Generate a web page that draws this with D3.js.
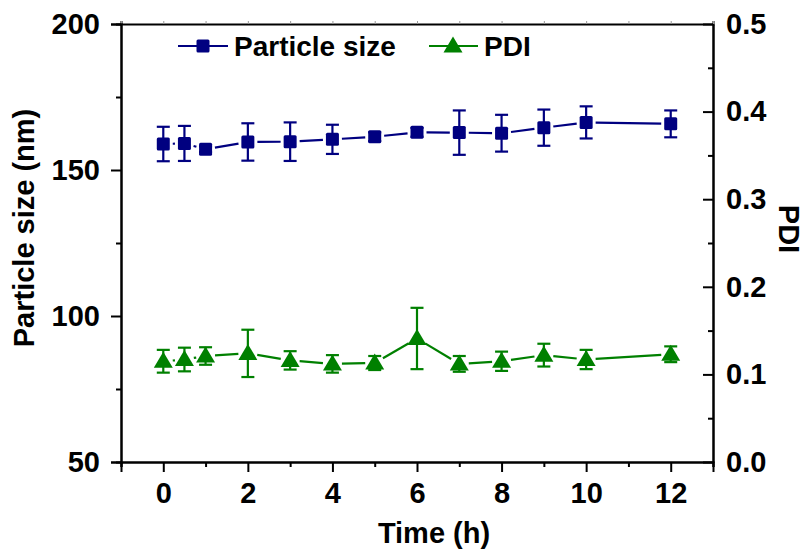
<!DOCTYPE html>
<html>
<head>
<meta charset="utf-8">
<script src="https://cdn.jsdelivr.net/npm/d3@7"></script>
<style>
  body { margin: 0; background: #fff; }
  text { font-family: "Liberation Sans", Arial, sans-serif; font-weight: bold; }
</style>
</head>
<body>
<div id="chart"></div>
<script>
// Sampling times (h)
const times = [0, 0.5, 1, 2, 3, 4, 5, 6, 7, 8, 9, 10, 12];
// Particle size (nm), mean and SD
const sizeMean = [158.9, 159.1, 157.1, 159.6, 159.7, 160.5, 161.4, 162.9, 162.8, 162.6, 164.5, 166.3, 165.8];
const sizeErr = [5.9, 6.0, 1.0, 6.4, 6.6, 5.0, 1.5, 1.5, 7.6, 6.3, 6.2, 5.5, 4.6];
// PDI, mean and SD
const pdiMean = [0.115, 0.117, 0.121, 0.124, 0.116, 0.112, 0.113, 0.141, 0.112, 0.115, 0.122, 0.117, 0.123];
const pdiErr = [0.013, 0.0135, 0.010, 0.027, 0.0105, 0.010, 0.008, 0.035, 0.009, 0.011, 0.013, 0.011, 0.009];

const xMajor = [0, 2, 4, 6, 8, 10, 12];
const xMinor = [-1, 1, 3, 5, 7, 9, 11, 13];
const leftMajor = [50, 100, 150, 200];
const leftMinor = [75, 125, 175];
const rightMajor = [0, 0.1, 0.2, 0.3, 0.4, 0.5];
const rightMinor = [0.05, 0.15, 0.25, 0.35, 0.45];

const W = 804, H = 554;
const plot = { left: 121, right: 713, top: 24, bottom: 462 };
const navy = '#000080', green = '#008000';

const svg = d3.select('#chart').append('svg')
    .attr('width', W)
    .attr('height', H);

const x = d3.scaleLinear().domain([-1, 13]).range([plot.left, plot.right]);
const yL = d3.scaleLinear().domain([50, 200]).range([plot.bottom, plot.top]);
const yR = d3.scaleLinear().domain([0, 0.5]).range([plot.bottom, plot.top]);

// Axes
function styleAxis(g) {
    g.selectAll('path.domain').attr('stroke', '#000').attr('stroke-width', 2);
    g.selectAll('.tick line').attr('stroke', '#000').attr('stroke-width', 2);
    g.selectAll('text').attr('font-size', '29px').attr('fill', '#000');
}

// bottom
svg.append('g')
    .attr('transform', `translate(0,${plot.bottom})`)
    .call(d3.axisBottom(x).tickValues(xMinor).tickSize(5).tickFormat(''))
    .call(styleAxis);
svg.append('g')
    .attr('transform', `translate(0,${plot.bottom})`)
    .call(d3.axisBottom(x).tickValues(xMajor).tickSize(10).tickPadding(10).tickFormat(d3.format('d')))
    .call(styleAxis);

// top (thin ticks, no labels)
svg.append('g')
    .attr('transform', `translate(0,${plot.top})`)
    .call(d3.axisTop(x).tickValues(xMajor.concat(xMinor)).tickSize(3).tickFormat(''))
    .call(styleAxis)
    .call(g => g.selectAll('.tick line').attr('stroke', '#999').attr('stroke-width', 1));

// left
svg.append('g')
    .attr('transform', `translate(${plot.left},0)`)
    .call(d3.axisLeft(yL).tickValues(leftMinor).tickSize(5).tickFormat(''))
    .call(styleAxis);
svg.append('g')
    .attr('transform', `translate(${plot.left},0)`)
    .call(d3.axisLeft(yL).tickValues(leftMajor).tickSize(10).tickPadding(11).tickFormat(d3.format('d')))
    .call(styleAxis);

// right (ticks point inward)
svg.append('g')
    .attr('transform', `translate(${plot.right},0)`)
    .call(d3.axisRight(yR).tickValues(rightMinor).tickSizeInner(-5).tickSizeOuter(0).tickFormat(''))
    .call(styleAxis);
svg.append('g')
    .attr('transform', `translate(${plot.right},0)`)
    .call(d3.axisRight(yR).tickValues(rightMajor).tickSizeInner(-10).tickSizeOuter(0).tickPadding(13).tickFormat(d3.format('.1f')))
    .call(styleAxis);

// Axis titles
svg.append('text')
    .attr('transform', `translate(34,228) rotate(-90)`)
    .attr('text-anchor', 'middle')
    .attr('font-size', '29px')
    .text('Particle size (nm)');

svg.append('text')
    .attr('transform', `translate(779,229) rotate(90)`)
    .attr('text-anchor', 'middle')
    .attr('font-size', '29px')
    .text('PDI');

svg.append('text')
    .attr('x', 434)
    .attr('y', 543)
    .attr('text-anchor', 'middle')
    .attr('font-size', '29px')
    .text('Time (h)');

// Series drawing
const triPath = 'M0,-9.5L9.5,6.5L-9.5,6.5Z';
const gap = 9.5;

function drawSeries(means, errs, yScale, color, kind) {
    const pts = times.map((t, i) => ({ px: x(t), py: yScale(means[i]), lo: yScale(means[i] - errs[i]), hi: yScale(means[i] + errs[i]) }));
    const g = svg.append('g');

    // connecting segments, with gaps around symbols
    for (let i = 0; i < pts.length - 1; i++) {
        const a = pts[i], b = pts[i + 1];
        const dx = b.px - a.px, dy = b.py - a.py;
        const len = Math.hypot(dx, dy);
        if (len <= 2 * gap) continue;
        const ux = dx / len, uy = dy / len;
        g.append('line')
            .attr('x1', a.px + ux * gap).attr('y1', a.py + uy * gap)
            .attr('x2', b.px - ux * gap).attr('y2', b.py - uy * gap)
            .attr('stroke', color)
            .attr('stroke-width', 2.2);
    }

    // error bars
    const eb = g.selectAll('.eb').data(pts).enter().append('g');
    eb.append('line')
        .attr('x1', d => d.px).attr('x2', d => d.px)
        .attr('y1', d => d.lo).attr('y2', d => d.hi)
        .attr('stroke', color).attr('stroke-width', 2.2);
    eb.append('line')
        .attr('x1', d => d.px - 6.5).attr('x2', d => d.px + 6.5)
        .attr('y1', d => d.lo).attr('y2', d => d.lo)
        .attr('stroke', color).attr('stroke-width', 2.2);
    eb.append('line')
        .attr('x1', d => d.px - 6.5).attr('x2', d => d.px + 6.5)
        .attr('y1', d => d.hi).attr('y2', d => d.hi)
        .attr('stroke', color).attr('stroke-width', 2.2);

    // symbols
    if (kind === 'square') {
        g.selectAll('.sym').data(pts).enter().append('rect')
            .attr('x', d => d.px - 6.5).attr('y', d => d.py - 6.5)
            .attr('width', 13).attr('height', 13)
            .attr('rx', 1.5)
            .attr('fill', color);
    } else {
        g.selectAll('.sym').data(pts).enter().append('path')
            .attr('transform', d => `translate(${d.px},${d.py})`)
            .attr('d', triPath)
            .attr('fill', color);
    }
}

drawSeries(sizeMean, sizeErr, yL, navy, 'square');
drawSeries(pdiMean, pdiErr, yR, green, 'triangle');

// Legend
const legend = svg.append('g');
legend.append('line').attr('x1', 178).attr('x2', 228).attr('y1', 46).attr('y2', 46)
    .attr('stroke', navy).attr('stroke-width', 2.2);
legend.append('rect').attr('x', 203 - 6.5).attr('y', 46 - 6.5).attr('width', 13).attr('height', 13)
    .attr('rx', 1.5).attr('fill', navy);
legend.append('text').attr('x', 234).attr('y', 56).attr('font-size', '28px').text('Particle size');

legend.append('line').attr('x1', 429).attr('x2', 478).attr('y1', 46).attr('y2', 46)
    .attr('stroke', green).attr('stroke-width', 2.2);
legend.append('path').attr('transform', 'translate(453,46)').attr('d', triPath).attr('fill', green);
legend.append('text').attr('x', 484).attr('y', 56).attr('font-size', '28px').text('PDI');
</script>
</body>
</html>
